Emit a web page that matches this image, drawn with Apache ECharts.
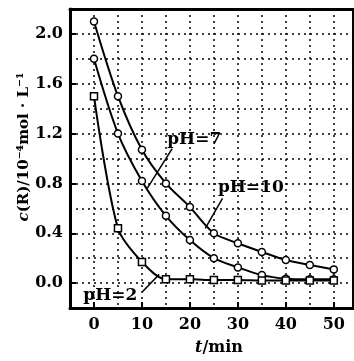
<!DOCTYPE html>
<html>
<head>
<meta charset="utf-8">
<script src="https://cdn.jsdelivr.net/npm/echarts@6/dist/echarts.min.js"></script>
<style>html,body{margin:0;padding:0;background:#fff}#c{width:354px;height:361px}</style>
</head>
<body>
<div id="c"></div>
<script>
// time points (min)
const times = [0, 5, 10, 15, 20, 25, 30, 35, 40, 45, 50];
// c(R) / 10^-4 mol L^-1
const seriesPH10 = [2.1, 1.5, 1.07, 0.80, 0.61, 0.40, 0.32, 0.25, 0.185, 0.145, 0.11];
const seriesPH7  = [1.8, 1.2, 0.82, 0.54, 0.345, 0.20, 0.126, 0.064, 0.035, 0.03, 0.03];
const seriesPH2  = [1.5, 0.44, 0.17, 0.03, 0.03, 0.024, 0.024, 0.02, 0.02, 0.02, 0.02];
// axis ticks
const xTickLabels = [0, 10, 20, 30, 40, 50];
const yTickLabels = [0.0, 0.4, 0.8, 1.2, 1.6, 2.0];
// annotations (data coordinates)
const labelNames = ['pH=7', 'pH=10', 'pH=2'];
const labelPos = [[20.9, 1.15], [32.7, 0.77], [3.4, -0.10]];
const leaderFrom = [[16.3, 1.08], [26.8, 0.68], [10.1, -0.07]];
const leaderTo = [[11.1, 0.76], [23.2, 0.44], [13.6, 0.07]];

const FONT = 'DejaVu Serif';
const pairs = v => times.map((t, i) => [t, v[i]]);

function lineSeries(name, vals, symbol) {
  return {
    name, type: 'line', data: pairs(vals), smooth: 0.3,
    xAxisIndex: 0, yAxisIndex: 0,
    symbol, symbolSize: 7, showSymbol: true,
    lineStyle: { color: '#000', width: 2 },
    itemStyle: { color: '#fff', borderColor: '#000', borderWidth: 1.5 },
    z: 5
  };
}

const s1 = lineSeries('pH=10', seriesPH10, 'circle');
const s2 = lineSeries('pH=7', seriesPH7, 'circle');
const s3 = lineSeries('pH=2', seriesPH2, 'rect');
s1.markLine = {
  silent: true, symbol: ['none', 'none'], animation: false,
  label: { show: false },
  lineStyle: { color: '#000', width: 1.5, type: 'solid' },
  data: leaderFrom.map((f, i) => [{ coord: f }, { coord: leaderTo[i] }])
};
s1.markPoint = {
  silent: true, animation: false, symbol: 'rect', symbolSize: 1,
  itemStyle: { color: 'rgba(0,0,0,0)' },
  label: { show: true, position: 'inside', formatter: '{b}', color: '#000',
           fontFamily: FONT, fontWeight: 'bold', fontSize: 17 },
  data: labelNames.map((n, i) => ({ name: n, coord: labelPos[i] }))
};

const dotted = { color: '#000', width: 1.5, type: [2, 4] };

const option = {
  animation: false,
  grid: { left: 70, right: 1, top: 9, bottom: 53 },
  xAxis: [
    { type: 'value', min: -5, max: 54, position: 'bottom',
      axisLine: { show: true, onZero: false, lineStyle: { color: '#000', width: 3 } },
      axisTick: { show: true, inside: true, length: 6, customValues: xTickLabels,
                  lineStyle: { color: '#000', width: 2 } },
      axisLabel: { customValues: xTickLabels, margin: 9, color: '#000',
                   fontFamily: FONT, fontWeight: 'bold', fontSize: 16 },
      splitLine: { show: false } },
    { type: 'value', min: -5, max: 54, interval: 5, position: 'top',
      axisLine: { show: true, onZero: false, lineStyle: { color: '#000', width: 3 } },
      axisTick: { show: false }, axisLabel: { show: false },
      splitLine: { show: true, lineStyle: dotted } }
  ],
  yAxis: [
    { type: 'value', min: -0.2, max: 2.2, position: 'left',
      axisLine: { show: true, onZero: false, lineStyle: { color: '#000', width: 3 } },
      axisTick: { show: true, inside: true, length: 6, customValues: yTickLabels,
                  lineStyle: { color: '#000', width: 2 } },
      axisLabel: { customValues: yTickLabels, margin: 7, color: '#000',
                   fontFamily: FONT, fontWeight: 'bold', fontSize: 16,
                   formatter: v => v.toFixed(1) },
      splitLine: { show: false } },
    { type: 'value', min: -0.2, max: 2.2, interval: 0.2, position: 'right',
      axisLine: { show: true, onZero: false, lineStyle: { color: '#000', width: 2 } },
      axisTick: { show: false }, axisLabel: { show: false },
      splitLine: { show: true, lineStyle: dotted } }
  ],
  graphic: [
    { type: 'text', x: 24, y: 147, rotation: Math.PI / 2,
      style: { text: '{i|c}(R)/10⁻⁴mol · L⁻¹', fill: '#000', align: 'center', verticalAlign: 'middle',
               font: 'bold 15px "DejaVu Serif"',
               rich: { i: { fontStyle: 'italic', fontWeight: 'bold', fontSize: 15, fontFamily: FONT } } } },
    { type: 'text', x: 219, y: 348,
      style: { text: '{i|t}/min', fill: '#000', align: 'center', verticalAlign: 'middle',
               font: 'bold 16px "DejaVu Serif"',
               rich: { i: { fontStyle: 'italic', fontWeight: 'bold', fontSize: 16, fontFamily: FONT } } } }
  ],
  series: [s1, s2, s3]
};

const chart = echarts.init(document.getElementById('c'), null, { renderer: 'canvas' });
chart.setOption(option);
</script>
</body>
</html>
